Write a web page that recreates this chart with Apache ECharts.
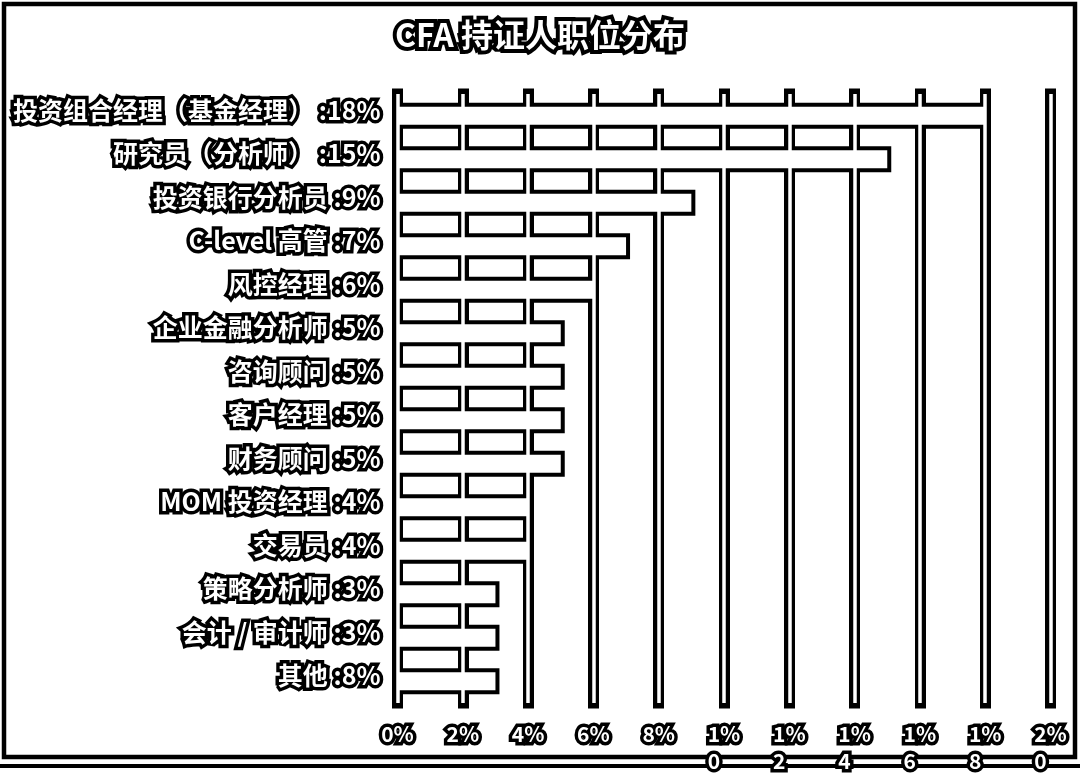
<!DOCTYPE html>
<html><head><meta charset="utf-8">
<script src="https://cdn.jsdelivr.net/npm/echarts@6/dist/echarts.min.js"></script>
<style>html,body{margin:0;padding:0;background:#fff}#c{width:1080px;height:778px}</style>
</head><body><div id="c"></div>
<script>
const chartTitle = 'CFA 持证人职位分布';
const roles = ['投资组合经理（基金经理）','研究员（分析师）','投资银行分析员','C-level 高管','风控经理','企业金融分析师','咨询顾问','客户经理','财务顾问','MOM 投资经理','交易员','策略分析师','会计 / 审计师','其他'];
const shareLabels = [18,15,9,7,6,5,5,5,5,4,4,3,3,8];
const barValues = [18,15,9,7,6,5,5,5,5,4,4,3,3,3];
const xMin = 0, xMax = 20, xStep = 2;

const categories = roles.map((r, i) => r + ' :' + shareLabels[i] + '%');
const FONT = '"Noto Sans CJK SC", "Noto Sans", sans-serif';
const txt = (size, bw) => ({
  color: '#fff', fontWeight: 'bold', fontFamily: FONT, fontSize: size,
  textBorderColor: '#000', textBorderWidth: bw || 7
});

const chart = echarts.init(document.getElementById('c'), null, {renderer: 'canvas'});
chart.setOption({
  backgroundColor: '#fff',
  animation: false,
  title: {
    text: chartTitle, left: 'center', top: 14,
    textStyle: txt(32, 8)
  },
  graphic: [
    {type: 'rect', z: -10, silent: true, shape: {x: 4, y: 4, width: 1071, height: 753},
     style: {fill: null, stroke: '#000', lineWidth: 4.5}},
    {type: 'line', z: -10, silent: true, shape: {x1: 0, y1: 766, x2: 1080, y2: 766},
     style: {stroke: '#000', lineWidth: 4}}
  ],
  grid: {left: 397.5, right: 29.5, top: 94, bottom: 75, containLabel: false},
  xAxis: [{
    type: 'value', min: xMin, max: xMax, interval: xStep, z: 0,
    axisLine: {show: false}, axisTick: {show: false},
    axisLabel: Object.assign(txt(21), {
      margin: 18, lineHeight: 27,
      formatter: v => {
        const s = String(v);
        if (s.length > 1) return '{t|' + s[0] + '%}\n{b|' + s.slice(1) + '}';
        return s + '%';
      },
      rich: {
        t: Object.assign(txt(21), {lineHeight: 27, align: 'center'}),
        b: Object.assign(txt(21), {lineHeight: 27, align: 'left'})
      }
    }),
    splitLine: {show: true, lineStyle: {color: '#000', width: 11, cap: 'square'}}
  }, {
    type: 'value', min: xMin, max: xMax, interval: xStep, z: 2, position: 'bottom',
    axisLine: {show: false}, axisTick: {show: false}, axisLabel: {show: false},
    splitLine: {show: true, lineStyle: {color: '#fff', width: 3.5}}
  }],
  yAxis: {
    type: 'category', inverse: true, data: categories,
    axisLine: {show: false}, axisTick: {show: false}, splitLine: {show: false},
    axisLabel: Object.assign(txt(25), {margin: 17, verticalAlign: 'bottom', lineHeight: 11})
  },
  series: [{
    name: 'outline', type: 'custom', z: 1, silent: true,
    data: barValues.map((v, i) => [v, i]),
    encode: {x: 0, y: 1},
    renderItem: (params, api) => {
      const v = api.value(0), c = api.value(1);
      const p0 = api.coord([0, c]), p1 = api.coord([v, c]);
      const pad = 4, h = 26;
      return {type: 'rect', shape: {x: p0[0] - pad, y: p0[1] - h / 2, width: p1[0] - p0[0] + 2 * pad, height: h},
              style: {fill: '#000'}};
    }
  }, {
    name: 'fill', type: 'bar', data: barValues, barWidth: 18, z: 3, silent: true,
    itemStyle: {color: '#fff', borderWidth: 0}
  }]
});
</script>
</body></html>
